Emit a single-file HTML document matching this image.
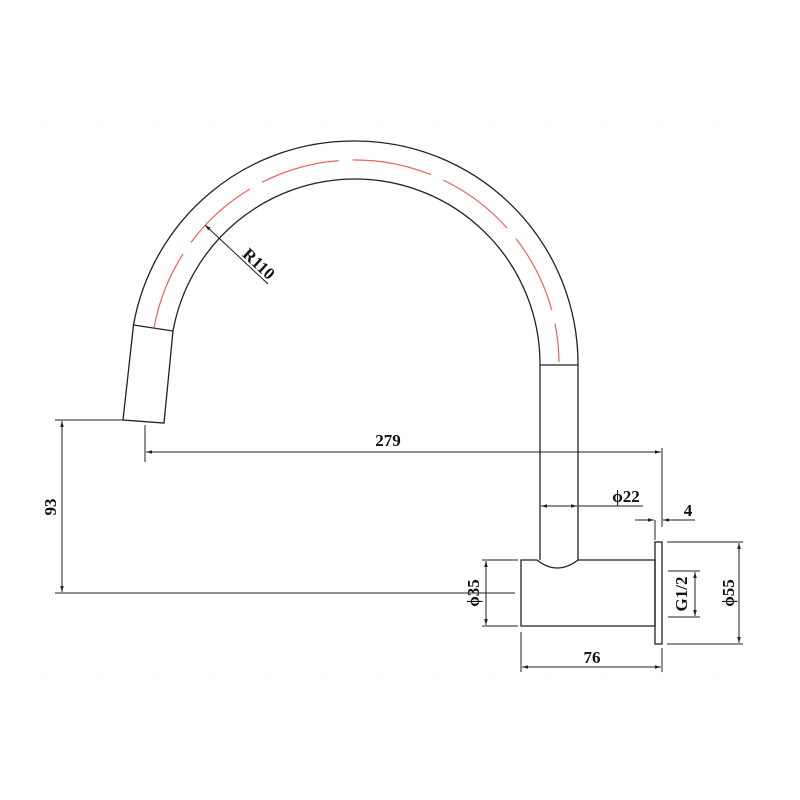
<!DOCTYPE html>
<html><head><meta charset="utf-8"><style>
html,body{margin:0;padding:0;background:#fff}
svg{display:block}
text{font-family:"Liberation Serif",serif;font-size:17px;fill:#111;font-weight:bold}
</style></head><body>
<svg width="800" height="800" viewBox="0 0 800 800" xmlns="http://www.w3.org/2000/svg">
<defs>
<marker id="a" viewBox="0 0 10 10" refX="10" refY="5" markerWidth="8" markerHeight="6" orient="auto-start-reverse"><path d="M0,2 L10,5 L0,8 z" fill="#222"/></marker>
</defs>
<g stroke="#ddd" stroke-width="1" stroke-dasharray="1 55">
<line x1="45" y1="127" x2="760" y2="127"/>
<line x1="45" y1="673" x2="760" y2="673"/>
</g>
<g fill="none" stroke="#222" stroke-width="1.3">
<path d="M133.5,325 A223,223 0 0 1 355,141 A223,223 0 0 1 578,364"/>
<path d="M173,331 A185,185 0 0 1 355,179 A185,185 0 0 1 540,364"/>
<path d="M133.5,325 L173,331 L164,423 L123,420 Z"/>
<line x1="540" y1="364" x2="540" y2="560"/>
<line x1="578" y1="364" x2="578" y2="560"/>
<line x1="540" y1="365" x2="578" y2="365"/>
<path d="M521,560 L537,560 Q557,576 578,560 L655,560 L655,626 L521,626 Z"/>
<rect x="655" y="542" width="7" height="102"/>
</g>
<path d="M154,328 A204,204 0 0 1 355,160 A204,204 0 0 1 559,362" fill="none" stroke="#f06060" stroke-width="1.2" stroke-dasharray="80 14"/>
<g stroke="#222" stroke-width="1" fill="none">
<line x1="205" y1="225" x2="268" y2="284" marker-start="url(#a)"/>
<line x1="145" y1="425" x2="145" y2="462"/>
<line x1="662" y1="448" x2="662" y2="527"/>
<line x1="146" y1="452" x2="661" y2="452" marker-start="url(#a)" marker-end="url(#a)"/>
<line x1="55" y1="420" x2="123" y2="420"/>
<line x1="55" y1="593" x2="515" y2="593"/>
<line x1="62" y1="421" x2="62" y2="592" marker-start="url(#a)" marker-end="url(#a)"/>
<line x1="541" y1="506" x2="577" y2="506" marker-start="url(#a)" marker-end="url(#a)"/>
<line x1="578" y1="506" x2="643" y2="506"/>
<line x1="635" y1="520" x2="654" y2="520" marker-end="url(#a)"/>
<line x1="695" y1="520" x2="663" y2="520" marker-end="url(#a)"/>
<line x1="655" y1="520" x2="655" y2="540"/>
<line x1="667" y1="542" x2="743" y2="542"/>
<line x1="667" y1="644" x2="743" y2="644"/>
<line x1="739" y1="543" x2="739" y2="643" marker-start="url(#a)" marker-end="url(#a)"/>
<line x1="668" y1="571" x2="700" y2="571"/>
<line x1="668" y1="617" x2="700" y2="617"/>
<line x1="695" y1="572" x2="695" y2="616" marker-start="url(#a)" marker-end="url(#a)"/>
<line x1="482" y1="560" x2="518" y2="560"/>
<line x1="482" y1="626" x2="518" y2="626"/>
<line x1="486" y1="561" x2="486" y2="625" marker-start="url(#a)" marker-end="url(#a)"/>
<line x1="521" y1="632" x2="521" y2="672"/>
<line x1="662" y1="648" x2="662" y2="672"/>
<line x1="522" y1="667" x2="661" y2="667" marker-start="url(#a)" marker-end="url(#a)"/>
</g>
<text x="388" y="446" text-anchor="middle">279</text>
<text x="626" y="502" text-anchor="middle">ϕ22</text>
<text x="688" y="516" text-anchor="middle">4</text>
<text x="592" y="663" text-anchor="middle">76</text>
<text transform="translate(56,507) rotate(-90)" text-anchor="middle">93</text>
<text transform="translate(479,593) rotate(-90)" text-anchor="middle">ϕ35</text>
<text transform="translate(687,594) rotate(-90)" text-anchor="middle">G1/2</text>
<text transform="translate(734,593) rotate(-90)" text-anchor="middle">ϕ55</text>
<text transform="translate(255,268) rotate(43)" text-anchor="middle">R110</text>
</svg>
</body></html>
